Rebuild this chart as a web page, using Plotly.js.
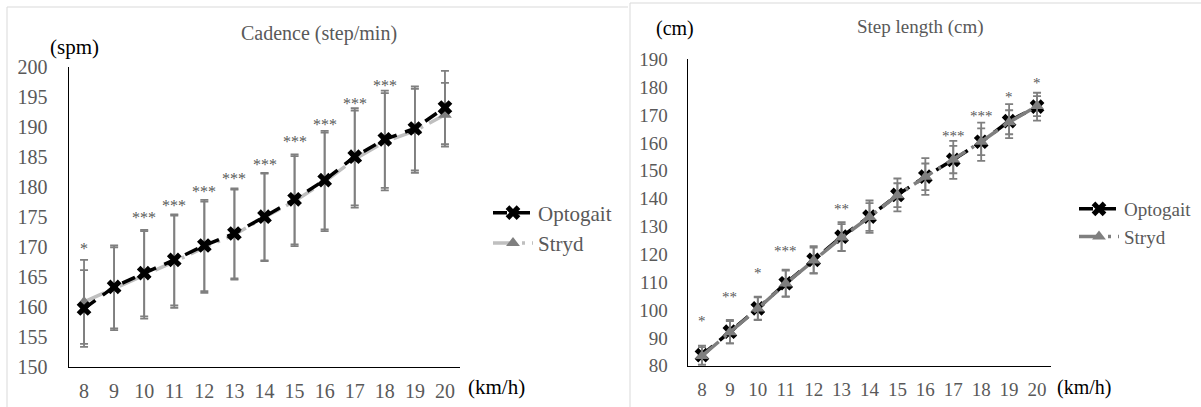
<!DOCTYPE html>
<html>
<head>
<meta charset="utf-8">
<script src="https://cdn.plot.ly/plotly-3.0.1.min.js"></script>
<style>
  html, body { margin: 0; padding: 0; background: #fff; }
  #chart { width: 1201px; height: 407px; }
</style>
</head>
<body>
<div id="chart"></div>
<script>
// Running speed (km/h)
const speeds = [8, 9, 10, 11, 12, 13, 14, 15, 16, 17, 18, 19, 20];

// Cadence (steps/min): mean and SD for each device
const cadenceOptogait   = [159.7, 163.3, 165.6, 167.8, 170.2, 172.2, 175.0, 177.9, 181.1, 185.0, 187.9, 189.7, 193.2];
const cadenceOptogaitSD = [6.4, 6.9, 7.2, 7.6, 7.6, 7.5, 7.3, 7.5, 8.2, 8.1, 8.1, 7.0, 6.1];
const cadenceStryd      = [160.8, 163.0, 165.3, 167.5, 169.9, 172.0, 174.9, 177.6, 180.8, 184.6, 187.5, 189.3, 192.0];
const cadenceStrydSD    = [7.0, 6.9, 7.3, 7.7, 7.6, 7.5, 7.3, 7.5, 8.2, 8.1, 8.1, 7.0, 5.3];
const cadenceSig        = ['*', '', '***', '***', '***', '***', '***', '***', '***', '***', '***', '**', '*'];
const cadenceSigAt      = [170.4, null, 175.6, 177.6, 179.8, 182.1, 184.4, 188.2, 191.1, 194.6, 197.5, 200.4, 203.2];

// Step length (cm): mean and SD for each device
const stepOptogait   = [83.8, 92.2, 100.6, 109.6, 118.0, 126.3, 133.5, 141.3, 147.9, 153.9, 160.4, 167.8, 173.0];
const stepOptogaitSD = [3.4, 4.2, 4.2, 4.9, 4.9, 5.2, 5.8, 5.9, 6.6, 6.8, 6.9, 6.1, 5.0];
const stepStryd      = [83.5, 92.0, 100.5, 109.5, 117.8, 126.0, 133.4, 141.2, 147.8, 154.0, 160.4, 167.4, 173.2];
const stepStrydSD    = [3.2, 4.0, 4.0, 4.6, 4.6, 4.8, 5.0, 4.3, 4.8, 4.9, 4.8, 4.3, 3.6];
const stepSig        = ['*', '**', '*', '***', '', '**', '', '', '', '***', '***', '*', '*'];
const stepSigAt      = [97.6, 106.0, 114.6, 122.7, null, 137.7, null, null, null, 164.0, 171.2, 177.8, 182.8];

const W = 1201, H = 407;
const px = v => v / W;          // pixel column -> paper x
const py = v => 1 - v / H;      // pixel row -> paper y

const SERIF = 'Liberation Serif, Times New Roman, serif';
const GREY_TEXT = '#595959';
const ERR = '#7f7f7f';

function errBars(sd) {
  return { type: 'data', array: sd, visible: true, color: ERR, thickness: 1.8, width: 4 };
}

const optoMarker = { symbol: 'x', size: 13, color: '#000' };
const strydMarker = { symbol: 'triangle-up', size: 12, color: '#7f7f7f' };

const traces = [
  // Cadence panel: grey Stryd line below the black Optogait line
  {
    x: speeds, y: cadenceStryd, name: 'Stryd', type: 'scatter', mode: 'lines+markers',
    xaxis: 'x', yaxis: 'y', legend: 'legend', legendrank: 2,
    line: { color: '#bfbfbf', width: 3.5, dash: '22px,7px,3px,7px' },
    marker: strydMarker, error_y: errBars(cadenceStrydSD)
  },
  {
    x: speeds, y: cadenceOptogait, name: 'Optogait', type: 'scatter', mode: 'lines+markers',
    xaxis: 'x', yaxis: 'y', legend: 'legend', legendrank: 1,
    line: { color: '#000', width: 3.5, dash: '14px,9px' },
    marker: optoMarker, error_y: errBars(cadenceOptogaitSD)
  },
  // Step length panel: Stryd drawn over Optogait
  {
    x: speeds, y: stepOptogait, name: 'Optogait', type: 'scatter', mode: 'lines+markers',
    xaxis: 'x2', yaxis: 'y2', legend: 'legend2', legendrank: 1,
    line: { color: '#000', width: 3.5, dash: '14px,9px' },
    marker: optoMarker, error_y: errBars(stepOptogaitSD)
  },
  {
    x: speeds, y: stepStryd, name: 'Stryd', type: 'scatter', mode: 'lines+markers',
    xaxis: 'x2', yaxis: 'y2', legend: 'legend2', legendrank: 2,
    line: { color: '#7f7f7f', width: 3.5, dash: '22px,7px,3px,7px' },
    marker: strydMarker, error_y: errBars(stepStrydSD)
  }
];

const annotations = [];
function text(x, y, t, size, color, xanchor) {
  annotations.push({
    xref: 'paper', yref: 'paper', x: px(x), y: py(y), text: t, showarrow: false,
    xanchor: xanchor || 'center', yanchor: 'middle',
    font: { family: SERIF, size: size, color: color }
  });
}
// panel titles and unit labels
text(319, 33, 'Cadence (step/min)', 20, GREY_TEXT);
text(74, 47, '(spm)', 21, '#000');
text(496, 387, '(km/h)', 21, '#000');
text(920, 27, 'Step length (cm)', 19, GREY_TEXT);
text(675, 28, '(cm)', 20, '#000');
text(1084, 387, '(km/h)', 20, '#000');

// significance markers
function sig(labels, at, xr, yr, size) {
  labels.forEach((s, i) => {
    if (!s) return;
    annotations.push({
      xref: xr, yref: yr, x: speeds[i], y: at[i], text: s, showarrow: false,
      xanchor: 'center', yanchor: 'middle', yshift: -4,
      font: { family: SERIF, size: size, color: GREY_TEXT }
    });
  });
}
sig(cadenceSig, cadenceSigAt, 'x', 'y', 16);
sig(stepSig, stepSigAt, 'x2', 'y2', 15);

function xAxis(domain, size, anchor) {
  return {
    domain: domain, anchor: anchor, range: [7.5, 20.5], tickvals: speeds,
    showgrid: false, zeroline: false, showline: true, linecolor: '#000', linewidth: 1.5,
    ticks: 'outside', ticklen: 6, tickcolor: 'rgba(0,0,0,0)',
    tickfont: { family: SERIF, size: size, color: GREY_TEXT }, fixedrange: true
  };
}
function yAxis(domain, range, dtick, size, anchor, standoff) {
  return {
    domain: domain, anchor: anchor, range: range, dtick: dtick, tick0: range[0],
    showgrid: false, zeroline: false, showline: true, linecolor: '#000', linewidth: 1.5,
    ticks: 'outside', ticklen: standoff, tickcolor: 'rgba(0,0,0,0)',
    tickfont: { family: SERIF, size: size, color: GREY_TEXT }, fixedrange: true
  };
}

const layout = {
  width: W, height: H,
  margin: { l: 0, r: 0, t: 0, b: 0, pad: 0 },
  paper_bgcolor: '#fff', plot_bgcolor: 'rgba(0,0,0,0)',
  showlegend: true,
  xaxis: xAxis([px(69), px(460)], 20, 'y'),
  yaxis: yAxis([py(366.7), py(66.7)], [150, 200], 5, 20, 'x', 16),
  xaxis2: xAxis([px(688), px(1051)], 19, 'y2'),
  yaxis2: yAxis([py(365.7), py(59.3)], [80, 190], 10, 19, 'x2', 15),
  legend: {
    x: px(488), y: py(228), xanchor: 'left', yanchor: 'middle',
    bgcolor: 'rgba(0,0,0,0)', itemwidth: 40, traceorder: 'normal',
    font: { family: SERIF, size: 21, color: GREY_TEXT }
  },
  legend2: {
    x: px(1074), y: py(223), xanchor: 'left', yanchor: 'middle',
    bgcolor: 'rgba(0,0,0,0)', itemwidth: 40, traceorder: 'normal',
    font: { family: SERIF, size: 19, color: GREY_TEXT }
  },
  annotations: annotations,
  shapes: [
    // light frames around the two panels
    { type: 'path', xref: 'paper', yref: 'paper',
      path: `M${px(7)},${py(407)} L${px(7)},${py(7)} L${px(628)},${py(7)}`,
      line: { color: '#d9d9d9', width: 1 } },
    { type: 'path', xref: 'paper', yref: 'paper',
      path: `M${px(630)},${py(407)} L${px(630)},${py(3)} L${px(1201)},${py(3)}`,
      line: { color: '#d9d9d9', width: 1 } }
  ]
};

Plotly.newPlot('chart', traces, layout, { staticPlot: true, displayModeBar: false });
</script>
</body>
</html>
